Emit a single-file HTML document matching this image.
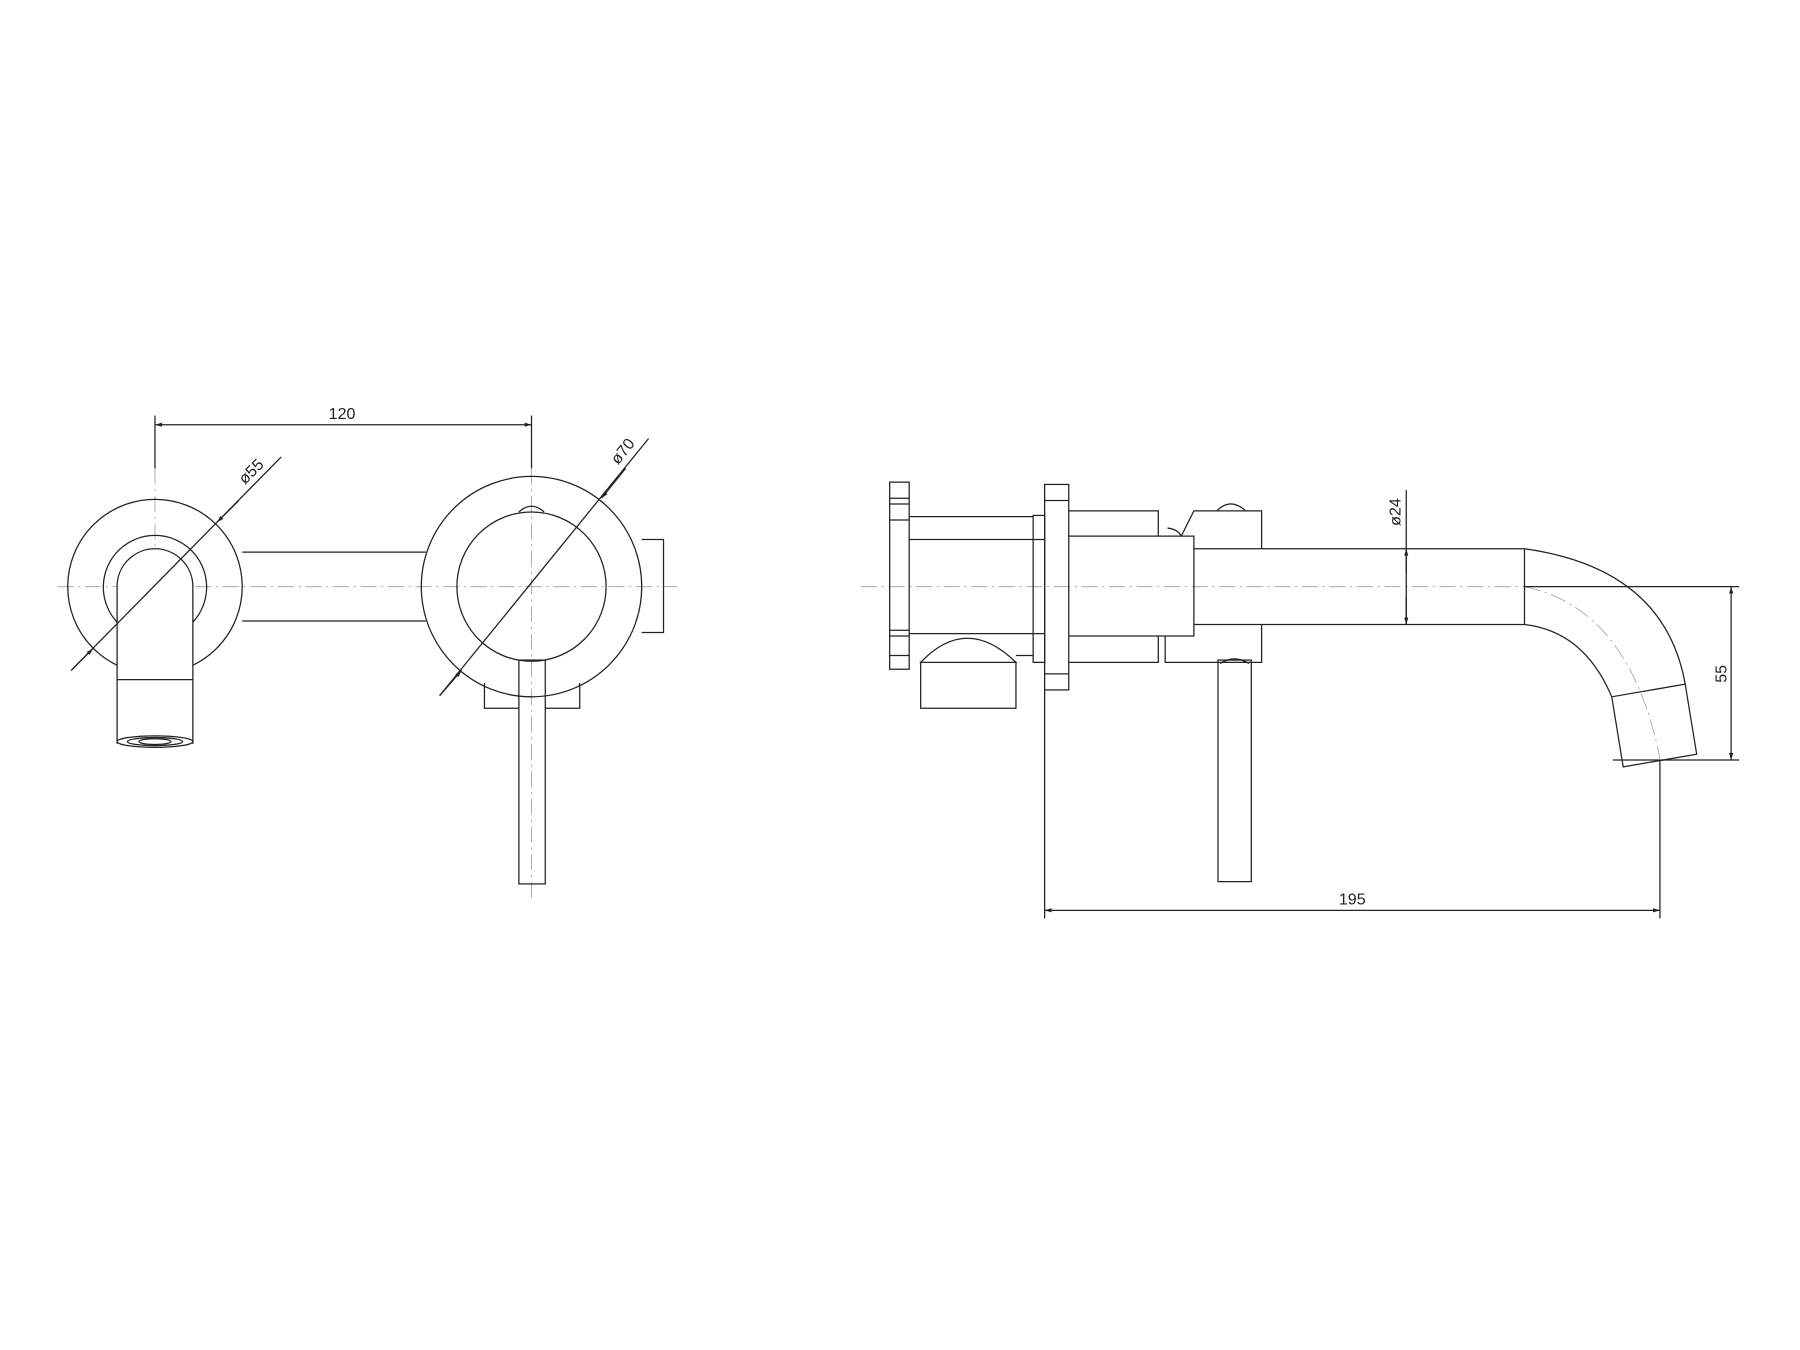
<!DOCTYPE html>
<html><head><meta charset="utf-8"><style>html,body{margin:0;padding:0;background:#fff}svg{display:block}</style></head>
<body>
<svg width="1800" height="1350" viewBox="0 0 1568 1176" xmlns="http://www.w3.org/2000/svg" font-family="Liberation Sans, sans-serif">
<defs>
<marker id="a" viewBox="0 0 10 10" refX="10" refY="5" markerWidth="10" markerHeight="6" orient="auto-start-reverse" markerUnits="userSpaceOnUse"><path d="M0,2 L10,5 L0,8 z" fill="#222"/></marker>
</defs>
<g stroke="#aaa" stroke-width="0.8" fill="none" stroke-dasharray="14,4,2,4">
<line x1="50" y1="511" x2="590" y2="511"/>
<line x1="750" y1="511" x2="1328" y2="511"/>
<line x1="135" y1="408" x2="135" y2="650"/>
<line x1="463" y1="408" x2="463" y2="785"/>
<path d="M1328,511 Q1420,530 1446,661"/>
</g>
<g stroke="#222" stroke-width="1.1" fill="none">
<!-- left view -->
<line x1="135" y1="362" x2="135" y2="408"/>
<line x1="463" y1="362" x2="463" y2="408"/>
<line x1="135" y1="370" x2="463" y2="370" marker-start="url(#a)" marker-end="url(#a)"/>
<circle cx="135" cy="511" r="76"/>
<path d="M211,481 L371,481 M211,541 L371,541"/>
<path d="M102,542 A45,45 0 1 1 168,542"/>
<path d="M102,648 L102,511 A33,33 0 0 1 168,511 L168,648" fill="#fff"/>
<line x1="102" y1="592" x2="168" y2="592"/>
<ellipse cx="135" cy="646" rx="33" ry="5"/>
<ellipse cx="135" cy="646" rx="24" ry="3.5"/>
<ellipse cx="135" cy="646" rx="14" ry="2.5"/>
<circle cx="463" cy="511" r="96"/>
<circle cx="463" cy="511" r="65"/>
<path d="M452,446 Q463,436 474,446"/>
<path d="M559,470 L578,470 L578,551 L559,551"/>
<path d="M422,595 L422,617 L452,617 M475,617 L505,617 L505,595"/>
<rect x="452" y="575" width="23" height="195"/>
<line x1="62" y1="584" x2="245" y2="398"/>
<line x1="62" y1="584" x2="81" y2="565" marker-end="url(#a)"/>
<line x1="208" y1="436" x2="189" y2="455" marker-end="url(#a)"/>
<line x1="383" y1="606" x2="565" y2="382"/>
<line x1="383" y1="606" x2="402" y2="584" marker-end="url(#a)"/>
<line x1="545" y1="408" x2="524" y2="434" marker-end="url(#a)"/>
<!-- right view -->
<rect x="775" y="420" width="17" height="163"/>
<path d="M775,434 H792 M775,439 H792 M775,453 H792 M775,549 H792 M775,554 H792 M775,571 H792"/>
<path d="M792,450 H900 M792,470 H910 M792,552 H910 M885,571 H900"/>
<rect x="900" y="449" width="10" height="128"/>
<rect x="910" y="422" width="21" height="179"/>
<path d="M910,436 H931 M910,587 H931"/>
<path d="M931,445 H1009 V467 M931,467 H1040 V554 H931 M931,577 H1009 V554"/>
<path d="M1029,467 L1040,445 H1099 V478 M1015,554 V577 H1099 V544"/>
<path d="M1017,460 Q1026,461 1029,467"/>
<path d="M1060,445 Q1072,433 1085,445"/>
<path d="M1040,478 H1328 M1040,544 H1328 M1328,478 V544"/>
<path d="M1328,478 Q1450,495 1468,596 L1478,657 L1414,668 L1404,607 Q1380,550 1328,544"/>
<line x1="1404" y1="607" x2="1468" y2="596"/>
<path d="M802,577 Q842,535 885,577 Z"/>
<path d="M802,577 V617 H885 V577"/>
<rect x="1061" y="575" width="29" height="193"/>
<path d="M1063,578 Q1075,570 1088,578"/>
<line x1="1225" y1="427" x2="1225" y2="544"/>
<line x1="1225" y1="500" x2="1225" y2="478" marker-end="url(#a)"/>
<line x1="1225" y1="520" x2="1225" y2="544" marker-end="url(#a)"/>
<line x1="1328" y1="511" x2="1515" y2="511"/>
<line x1="1405" y1="662" x2="1515" y2="662"/>
<line x1="1508" y1="511" x2="1508" y2="662" marker-start="url(#a)" marker-end="url(#a)"/>
<line x1="910" y1="601" x2="910" y2="800"/>
<line x1="1446" y1="662" x2="1446" y2="800"/>
<line x1="910" y1="793" x2="1446" y2="793" marker-start="url(#a)" marker-end="url(#a)"/>
</g>
<g fill="#222" font-size="14">
<text x="298" y="365" text-anchor="middle">120</text>
<text x="0" y="0" text-anchor="middle" transform="translate(222,414) rotate(-45)">ø55</text>
<text x="0" y="0" text-anchor="middle" transform="translate(546,396) rotate(-51)">ø70</text>
<text x="0" y="0" text-anchor="middle" transform="translate(1220,446) rotate(-90)">ø24</text>
<text x="0" y="0" text-anchor="middle" transform="translate(1504,587) rotate(-90)">55</text>
<text x="1178" y="788" text-anchor="middle">195</text>
</g>
</svg>
</body></html>
